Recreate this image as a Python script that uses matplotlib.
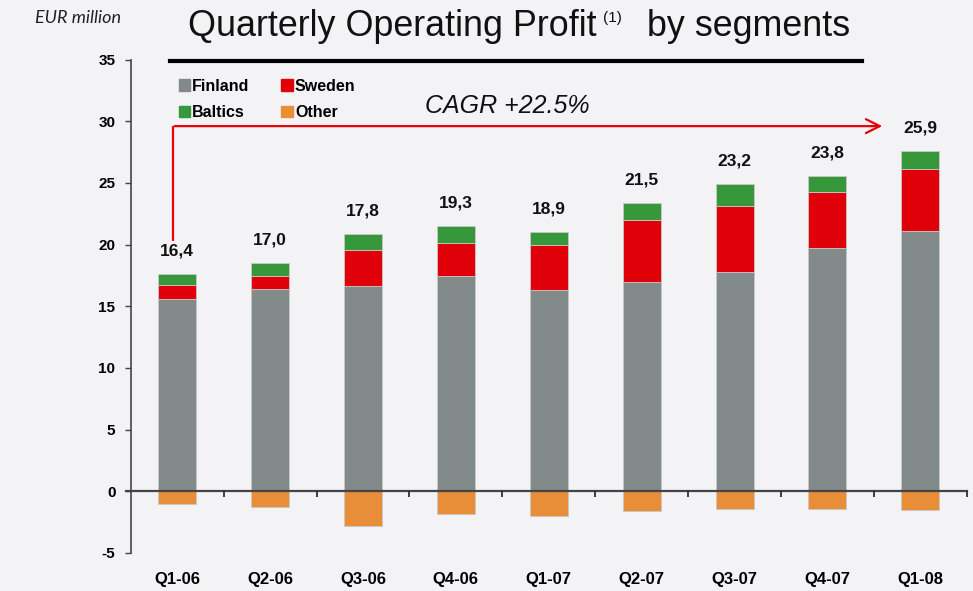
import matplotlib
matplotlib.use("Agg")
import matplotlib.pyplot as plt
from matplotlib.lines import Line2D
import numpy as np

quarters = ["Q1-06", "Q2-06", "Q3-06", "Q4-06", "Q1-07", "Q2-07", "Q3-07", "Q4-07", "Q1-08"]
finland = [15.6, 16.4, 16.65, 17.45, 16.3, 16.95, 17.8, 19.75, 21.1]
sweden = [1.15, 1.05, 2.9, 2.7, 3.65, 5.05, 5.35, 4.55, 5.05]
baltics = [0.85, 1.05, 1.3, 1.35, 1.05, 1.35, 1.75, 1.25, 1.45]
other = [-1.0, -1.3, -2.85, -1.8, -2.0, -1.6, -1.4, -1.4, -1.5]
totals = ["16,4", "17,0", "17,8", "19,3", "18,9", "21,5", "23,2", "23,8", "25,9"]
yticks = [-5, 0, 5, 10, 15, 20, 25, 30, 35]

c_fin = "#838a8a"
c_swe = "#e0000a"
c_bal = "#36983a"
c_oth = "#e88e38"

BOLD = ["Liberation Sans", "DejaVu Sans"]
REG = ["Liberation Sans", "DejaVu Sans"]

W, H = 973, 591
fig = plt.figure(figsize=(W / 100, H / 100), dpi=100)
fig.patch.set_facecolor("#f3f3f5")

ax = fig.add_axes([130.7 / W, 1 - 553 / H, (966.8 - 130.7) / W, (553 - 59.5) / H])
ax.set_facecolor("none")

x = np.arange(len(quarters))
fin = np.array(finland)
swe = np.array(sweden)
bal = np.array(baltics)
oth = np.array(other)
bw = 0.41
ek = dict(edgecolor="#c8c8c8", linewidth=0.6)
ax.bar(x, fin, bw, color=c_fin, label="Finland", zorder=3, **ek)
ax.bar(x, swe, bw, bottom=fin, color=c_swe, label="Sweden", zorder=3, **ek)
ax.bar(x, bal, bw, bottom=fin + swe, color=c_bal, label="Baltics", zorder=3, **ek)
ax.bar(x, oth, bw, color=c_oth, label="Other", zorder=3, **ek)

tops = fin + swe + bal
for xi, t, lab in zip(x, tops, totals):
    ax.annotate(lab, (xi, t), xytext=(0, 11), textcoords="offset points",
                ha="center", va="bottom", fontsize=12.5, fontweight="bold",
                family=BOLD, color="#111111", zorder=5)

ax.set_xlim(-0.5, len(quarters) - 0.5)
ax.set_ylim(-5, 35)
ax.set_yticks(yticks)
ax.set_yticklabels([str(v) for v in yticks], fontsize=11, fontweight="bold", family=BOLD)
ax.tick_params(axis="y", direction="out", length=4, width=1, color="#444444", pad=7)

ax.set_xticks(x)
ax.set_xticklabels(quarters, fontsize=12, fontweight="bold", family=BOLD)
ax.tick_params(axis="x", length=0, pad=14)

for s in ["top", "right", "bottom"]:
    ax.spines[s].set_visible(False)
ax.spines["left"].set_color("#444444")
ax.spines["left"].set_linewidth(1.2)

# zero line with boundary ticks
ax.axhline(0, color="#444444", lw=1.6, zorder=4, xmin=-0.006, clip_on=False)
bounds = list(x[:-1] + 0.5) + [len(quarters) - 0.5]
ax.vlines(bounds, -0.45, 0, color="#222222", lw=1.2, zorder=4, clip_on=False)

# legend
ax.legend(handles=[
    plt.Rectangle((0, 0), 1, 1, color=c_fin),
    plt.Rectangle((0, 0), 1, 1, color=c_bal),
    plt.Rectangle((0, 0), 1, 1, color=c_swe),
    plt.Rectangle((0, 0), 1, 1, color=c_oth)],
    labels=["Finland", "Baltics", "Sweden", "Other"],
    ncol=2, loc="upper left", bbox_to_anchor=(0.04, 0.99), frameon=False,
    handlelength=0.75, handleheight=0.75, handletextpad=0.1, columnspacing=2.0,
    labelspacing=0.7, prop=dict(family=BOLD, weight="bold", size=11.5))

# CAGR arrow
ax.plot([-0.05, -0.05], [20.3, 29.6], color="#e8000a", lw=1.6, zorder=5, solid_capstyle="butt")
ax.annotate("", xy=(7.62, 29.6), xytext=(-0.05 - 0.008, 29.6),
            arrowprops=dict(arrowstyle="->,head_length=1.0,head_width=0.5", color="#e8000a", lw=1.6),
            zorder=5)
ax.text(3.55, 31.2, "CAGR +22.5%", fontsize=18, style="italic", ha="center", va="center",
        family=REG, color="#111111")

# decorative black line under title
fig.add_artist(Line2D([170 / W, 862 / W], [1 - 61 / H, 1 - 61 / H], color="black", lw=3))

# title
fig.text(188 / W, 1 - 36 / H, "Quarterly Operating Profit", fontsize=25.8, ha="left", va="baseline",
         family=REG, color="#111111")
fig.text(603 / W, 1 - 22 / H, "(1)", fontsize=11, ha="left", va="baseline",
         family=REG, color="#111111")
fig.text(850 / W, 1 - 36 / H, "by segments", fontsize=25.8, ha="right", va="baseline",
         family=REG, color="#111111")
fig.text(35 / W, 1 - 18 / H, "EUR million", fontsize=13, style="italic", ha="left", va="center",
         family=["Lato", "DejaVu Sans"], color="#222222")

fig.savefig("out.png", dpi=100, facecolor=fig.get_facecolor())
